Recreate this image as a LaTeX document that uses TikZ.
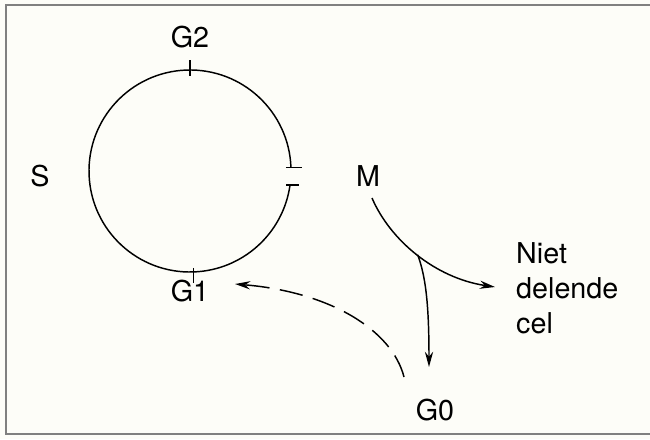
\documentclass[tikz,border=0pt]{standalone}
\usepackage{fontspec}
\setmainfont{TeX Gyre Heros}
\usepackage{tikz}
\usetikzlibrary{arrows.meta}

\begin{document}
\begin{tikzpicture}[
        x=0.03cm, y=0.03cm,
        phase/.style={inner sep=0pt, font=\fontsize{24.5}{30}\selectfont},
        cycle/.style={line width=1.25pt},
        flow/.style={line width=1.25pt, -{Stealth[length=13pt, width=7pt]}},
        back/.style={flow, dash pattern=on 20pt off 9pt}
    ]
        % Page
        \useasboundingbox[fill={rgb,255:red,253;green,253;blue,248}] (0,0) rectangle (650,439);
        \draw[line width=1.8pt, gray] (650,434) -- (6,434) -- (6,5) -- (650,5);

        % Cycle
        \coordinate (c) at (190,268);
        \draw[cycle] (c) ++(2:3.03cm) arc[start angle=2, end angle=352, radius=3.03cm];
        \draw[cycle] (c) ++(90:3.03cm) coordinate (g2tick) ++(0,-6) -- ++(0,16);
        \draw[cycle] (c) ++(272:3.03cm) coordinate (g1tick) ++(0,4) -- ++(0,-15);
        \draw[cycle] (c) ++(2:3.03cm) ++(-5,0) -- ++(16,0);
        \draw[cycle] (c) ++(352:3.03cm) ++(-4,0) -- ++(13,0);

        % Labels
        \node[phase] (g2) at (190,402) {G2};
        \node[phase] (s) at (40,263) {S};
        \node[phase] (m) at (368,263) {M};
        \node[phase] (g1) at (190,148) {G1};
        \node[phase] (g0) at (435,29) {G0};
        \node[phase, anchor=west, align=left] (niet) at (516,151) {Niet\\delende\\cel};

        % Division
        \coordinate (mstart) at (372,241);
        \coordinate (nietend) at (495,152);
        \coordinate (g0end) at (429,72);
        \draw[flow] (mstart) .. controls (390,199) and (435,161) .. coordinate[pos=0.5] (split) (nietend);
        \draw[flow] (split) .. controls (425,164) and (429,139) .. (g0end);

        % Return to G1
        \coordinate (g0start) at (404,62);
        \coordinate (g1end) at (235,155);
        \draw[back] (g0start) .. controls (392,109) and (330,147) .. (g1end);
    \end{tikzpicture}
\end{document}
